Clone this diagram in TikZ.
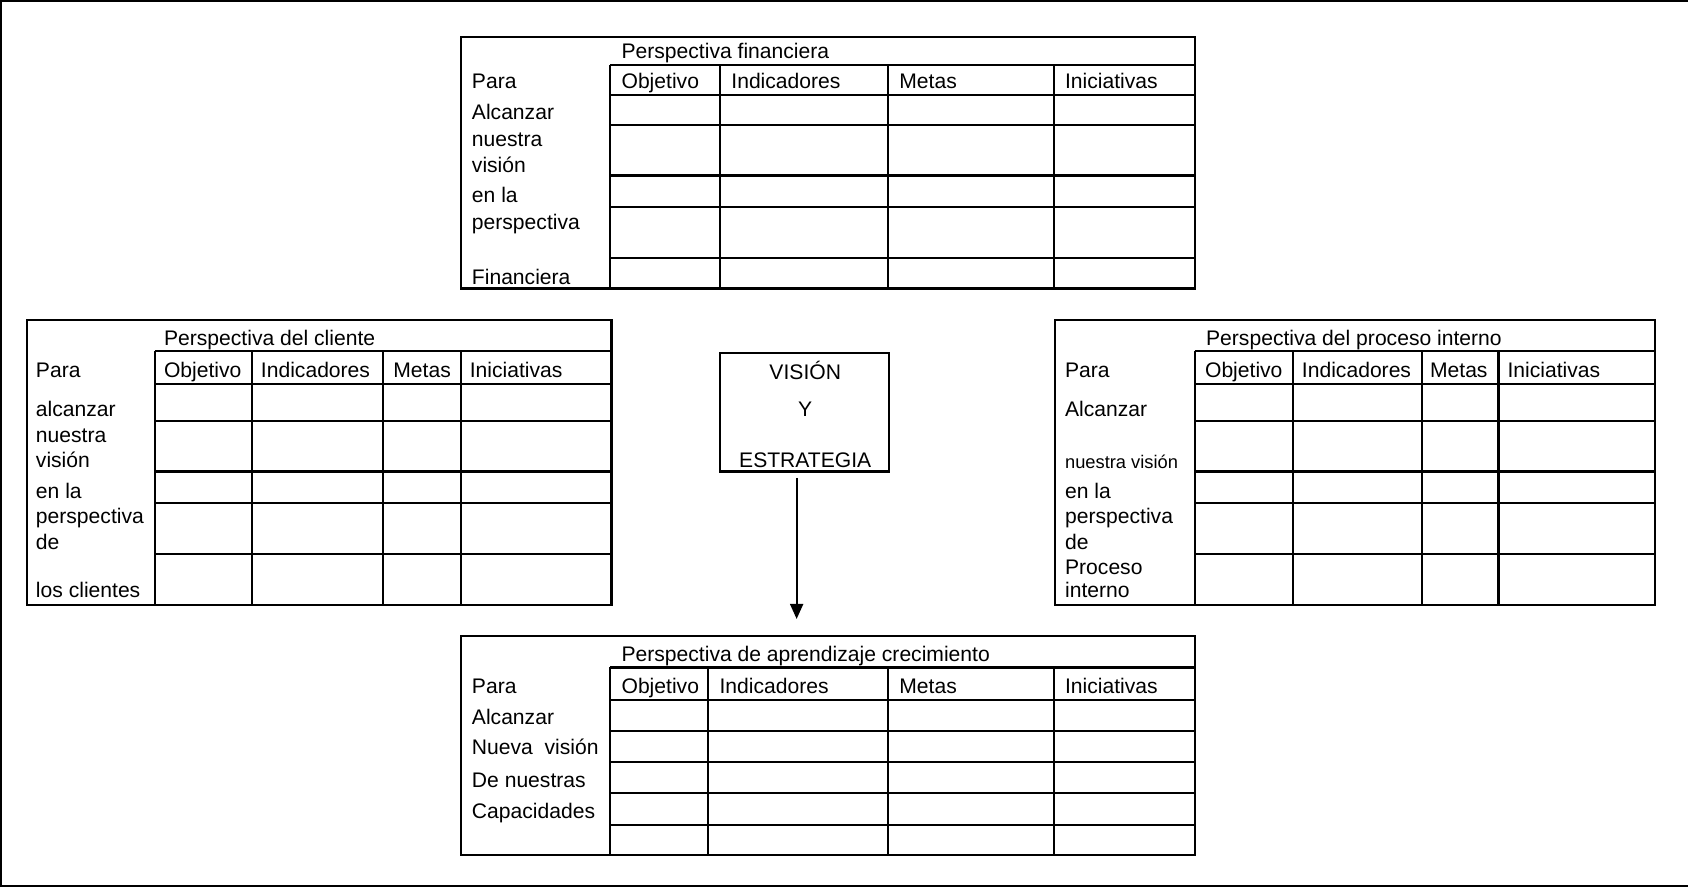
\documentclass[tikz,border=0pt]{standalone}
\usepackage{fontspec}
\setmainfont{Liberation Sans}
\usetikzlibrary{arrows.meta}
\begin{document}
\begin{tikzpicture}[x=0.5pt,y=-0.5pt,
  tbl/.style={line width=1pt},
  frame/.style={line width=0.8pt},
  txt/.style={anchor=west,inner sep=0pt,yshift=-1pt,text height=0.72em,text depth=0.21em,
              font=\fontsize{9.8pt}{11pt}\selectfont},
  smalltxt/.style={txt,font=\fontsize{8.5pt}{10pt}\selectfont},
  ctxt/.style={txt,anchor=center},
  link/.style={line width=1pt,-{Triangle[width=6pt,length=7pt]}}]
\useasboundingbox (0,0) rectangle (1568,824);
% page frame
\draw[frame] (1,824) -- (1,1) -- (1568,1);
\draw[frame] (0,823) -- (1568,823);

% ---- Perspectiva financiera ----
\draw[tbl] (428,34) rectangle (1110,268);
\foreach \y in {60,88,116,163,192,240} \draw[tbl] (567,\y) -- (1110,\y);
\foreach \x in {567,669,825,979} \draw[tbl] (\x,60) -- (\x,268);
\node[txt] (fT) at (577,47) {Perspectiva financiera};
\node[txt] at (577,75) {Objetivo};
\node[txt] at (679,75) {Indicadores};
\node[txt] at (835,75) {Metas};
\node[txt] at (989,75) {Iniciativas};
\node[txt] at (438,75) {Para};
\node[txt] at (438,104) {Alcanzar};
\node[txt] at (438,129) {nuestra};
\node[txt] at (438,153) {visión};
\node[txt] at (438,181) {en la};
\node[txt] at (438,206) {perspectiva};
\node[txt] at (438,257) {Financiera};

% ---- Perspectiva del cliente ----
\draw[tbl] (25,297) rectangle (568,562);
\foreach \y in {326,357,391,438,467,515} \draw[tbl] (144,\y) -- (568,\y);
\foreach \x in {144,234,356,428} \draw[tbl] (\x,326) -- (\x,562);
\node[txt] (cT) at (152,314) {Perspectiva del cliente};
\node[txt] at (152,344) {Objetivo};
\node[txt] at (242,344) {Indicadores};
\node[txt] at (365,344) {Metas};
\node[txt] at (436,344) {Iniciativas};
\node[txt] at (33,344) {Para};
\node[txt] at (33,380) {alcanzar};
\node[txt] at (33,404) {nuestra};
\node[txt] at (33,427) {visión};
\node[txt] at (33,456) {en la};
\node[txt] at (33,479) {perspectiva};
\node[txt] at (33,503) {de};
\node[txt] at (33,548) {los clientes};

% ---- Perspectiva del proceso interno ----
\draw[tbl] (980,297) rectangle (1537,562);
\foreach \y in {326,357,391,438,467,515} \draw[tbl] (1110,\y) -- (1537,\y);
\foreach \x in {1110,1201,1321,1392} \draw[tbl] (\x,326) -- (\x,562);
\node[txt] (pT) at (1120,314) {Perspectiva del proceso interno};
\node[txt] at (1119,344) {Objetivo};
\node[txt] at (1209,344) {Indicadores};
\node[txt] at (1328,344) {Metas};
\node[txt] at (1400,344) {Iniciativas};
\node[txt] at (989,344) {Para};
\node[txt] at (989,380) {Alcanzar};
\node[smalltxt] at (989,428) {nuestra visión};
\node[txt] at (989,456) {en la};
\node[txt] at (989,479) {perspectiva};
\node[txt] at (989,503) {de};
\node[txt] at (989,527) {Proceso};
\node[txt] at (989,548) {interno};

% ---- Perspectiva de aprendizaje crecimiento ----
\draw[tbl] (428,591) rectangle (1110,794);
\foreach \y in {620,650,679,708,737,766} \draw[tbl] (567,\y) -- (1110,\y);
\foreach \x in {567,658,825,979} \draw[tbl] (\x,620) -- (\x,794);
\node[txt] (aT) at (577,607) {Perspectiva de aprendizaje crecimiento};
\node[txt] at (577,637) {Objetivo};
\node[txt] at (668,637) {Indicadores};
\node[txt] at (835,637) {Metas};
\node[txt] at (989,637) {Iniciativas};
\node[txt] at (438,637) {Para};
\node[txt] at (438,666) {Alcanzar};
\node[txt] at (438,694) {Nueva~ visión};
\node[txt] at (438,724) {De nuestras};
\node[txt] at (438,753) {Capacidades};

% ---- Visión y estrategia ----
\node[draw,tbl,minimum width=78.5pt,minimum height=55pt,inner sep=0pt] (vis) at (747.5,383) {};
\node[ctxt] at (748,345) {VISIÓN};
\node[ctxt] at (748,380) {Y};
\node[ctxt] at (748,427) {ESTRATEGIA};

\coordinate (arrowend) at (740,575);
\draw[link] ([xshift=-3.75pt,yshift=-2.5pt]vis.south) -- (arrowend);
\end{tikzpicture}
\end{document}
